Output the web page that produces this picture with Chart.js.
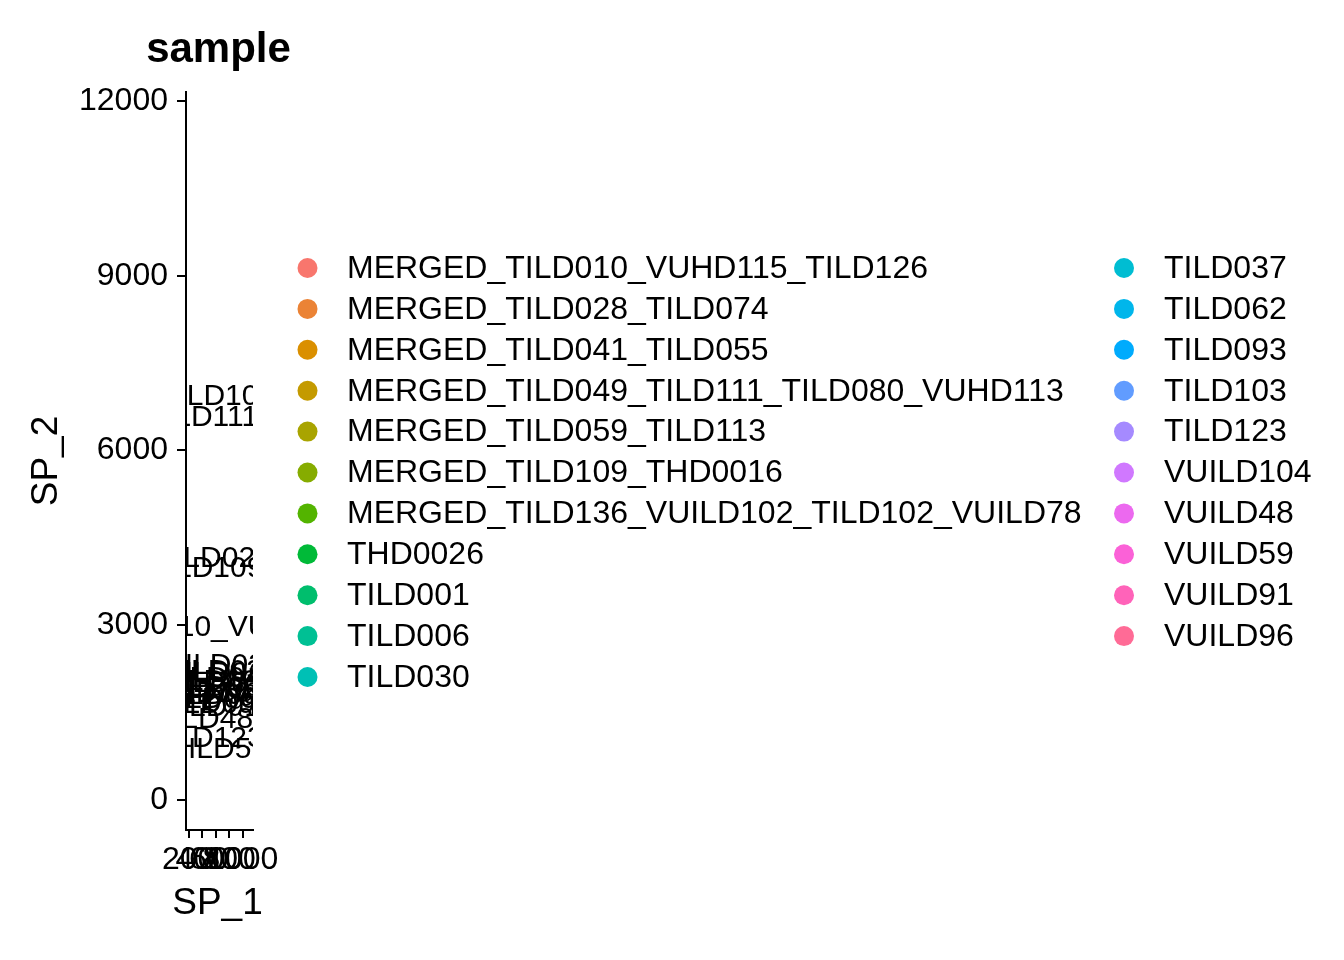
<!DOCTYPE html>
<html>
<head>
<meta charset="utf-8">
<script src="https://cdn.jsdelivr.net/npm/chart.js@4/dist/chart.umd.min.js"></script>
<style>
  html, body { margin: 0; padding: 0; background: #ffffff; }
  #wrap { width: 1344px; height: 960px; }
</style>
</head>
<body>
<div id="wrap"><canvas id="c" width="1344" height="960"></canvas></div>
<script>
// ---- data ----
const sampleNames = [
  "MERGED_TILD010_VUHD115_TILD126",
  "MERGED_TILD028_TILD074",
  "MERGED_TILD041_TILD055",
  "MERGED_TILD049_TILD111_TILD080_VUHD113",
  "MERGED_TILD059_TILD113",
  "MERGED_TILD109_THD0016",
  "MERGED_TILD136_VUILD102_TILD102_VUILD78",
  "THD0026",
  "TILD001",
  "TILD006",
  "TILD030",
  "TILD037",
  "TILD062",
  "TILD093",
  "TILD103",
  "TILD123",
  "VUILD104",
  "VUILD48",
  "VUILD59",
  "VUILD91",
  "VUILD96"
];
const labelX = [664, 455, 545, 418, 575, 430, 381, 545, 634, 604, 693,
                723, 664, 575, 515, 459, 456, 252, 474, 367, 427];
const labelY = [2960, 4150, 2090, 6560, 1990, 3970, 6920, 1890, 1790, 1720, 2200,
                2300, 1920, 1630, 1820, 1060, 2030, 1370, 860, 1580, 2160];
const xTicks = [200, 400, 600, 800, 1000];
const yTicks = [0, 3000, 6000, 9000, 12000];
const titleText = "sample";
const xTitle = "SP_1";
const yTitle = "SP_2";

// ---- ggplot-like hue palette ----
function hcl(h, c, l) {
  const hr = h * Math.PI / 180;
  const U = c * Math.cos(hr), V = c * Math.sin(hr);
  const Xn = 95.047, Yn = 100, Zn = 108.883;
  const den = Xn + 15 * Yn + 3 * Zn;
  const un = 4 * Xn / den, vn = 9 * Yn / den;
  const Y = Yn * (l > 8 ? Math.pow((l + 16) / 116, 3) : l / 903.3);
  const u = U / (13 * l) + un, v = V / (13 * l) + vn;
  const X = 9 * Y * u / (4 * v);
  const Z = Y * (12 - 3 * u - 20 * v) / (4 * v);
  const x = X / 100, y = Y / 100, z = Z / 100;
  let r = 3.240479 * x - 1.537150 * y - 0.498535 * z;
  let g = -0.969256 * x + 1.875992 * y + 0.041556 * z;
  let b = 0.055648 * x - 0.204043 * y + 1.057311 * z;
  const gam = t => t <= 0.0031308 ? 12.92 * t : 1.055 * Math.pow(t, 1 / 2.4) - 0.055;
  const to = t => Math.round(Math.min(1, Math.max(0, gam(t))) * 255);
  return 'rgb(' + to(r) + ',' + to(g) + ',' + to(b) + ')';
}
function huePal(n) {
  const out = [];
  for (let i = 0; i < n; i++) out.push(hcl(15 + 360 * i / n, 100, 65));
  return out;
}
const colors = huePal(sampleNames.length);

const FAM = '"Liberation Sans", Arial, Helvetica, sans-serif';

const datasets = sampleNames.map((name, i) => ({
  label: name,
  data: [{ x: labelX[i], y: labelY[i] }],
  backgroundColor: colors[i],
  borderColor: colors[i],
  pointRadius: 0,
  pointHoverRadius: 0
}));

// text labels inside panel (clipped like ggplot)
const labelPlugin = {
  id: 'panelLabels',
  afterDatasetsDraw(chart) {
    const { ctx, chartArea } = chart;
    ctx.save();
    ctx.beginPath();
    ctx.rect(chartArea.left, chartArea.top, chartArea.right - chartArea.left, chartArea.bottom - chartArea.top);
    ctx.clip();
    ctx.font = '30px ' + FAM;
    ctx.fillStyle = '#000';
    ctx.textAlign = 'center';
    ctx.textBaseline = 'middle';
    chart.data.datasets.forEach((ds, i) => {
      const el = chart.getDatasetMeta(i).data[0];
      if (el) ctx.fillText(ds.label, el.x, el.y);
    });
    ctx.restore();
  }
};

// title, x-axis title, legend
const decoPlugin = {
  id: 'deco',
  afterDraw(chart) {
    const { ctx, chartArea } = chart;
    const midX = (chartArea.left + chartArea.right) / 2;
    ctx.save();
    ctx.fillStyle = '#000';
    ctx.font = 'bold 42px ' + FAM;
    ctx.textAlign = 'center';
    ctx.textBaseline = 'alphabetic';
    ctx.fillText(titleText, midX - 1, 62);

    ctx.font = '37px ' + FAM;
    ctx.textBaseline = 'middle';
    ctx.fillText(xTitle, midX - 2, 904);

    const rows = 11;
    ctx.font = '32px ' + FAM;
    ctx.textAlign = 'left';
    ctx.textBaseline = 'middle';
    chart.data.datasets.forEach((ds, i) => {
      const col = Math.floor(i / rows), row = i % rows;
      const cx = col === 0 ? 307.5 : 1124;
      const tx = col === 0 ? 347 : 1164;
      const cy = 268 + row * 40.9;
      ctx.beginPath();
      ctx.arc(cx, cy, 10, 0, Math.PI * 2);
      ctx.fillStyle = ds.backgroundColor;
      ctx.fill();
      ctx.fillStyle = '#000';
      ctx.fillText(ds.label, tx, cy + 1);
    });
    ctx.restore();
  }
};

new Chart(document.getElementById('c'), {
  type: 'scatter',
  data: { datasets },
  options: {
    responsive: false,
    animation: false,
    events: [],
    layout: { padding: { left: 25, right: 1091, top: 92, bottom: 35 } },
    plugins: { legend: { display: false }, tooltip: { enabled: false }, title: { display: false } },
    scales: {
      x: {
        type: 'linear',
        min: 160,
        max: 1152.6,
        afterBuildTicks: s => { s.ticks = xTicks.map(v => ({ value: v })); },
        afterFit: s => { s.height = 95; },
        ticks: {
          autoSkip: false, maxRotation: 0, minRotation: 0,
          color: '#000', padding: 3,
          font: { size: 32, family: FAM },
          callback: v => String(v)
        },
        grid: { drawOnChartArea: false, drawTicks: true, tickLength: 8, color: '#000', lineWidth: 2 },
        border: { display: true, color: '#000', width: 2 },
        title: { display: false }
      },
      y: {
        type: 'linear',
        min: -515,
        max: 12154,
        afterBuildTicks: s => { s.ticks = yTicks.map(v => ({ value: v })); },
        afterFit: s => { s.width = 161; },
        ticks: {
          autoSkip: false, color: '#000', padding: 9,
          font: { size: 32, family: FAM },
          callback: v => String(v)
        },
        grid: { drawOnChartArea: false, drawTicks: true, tickLength: 9, color: '#000', lineWidth: 2 },
        border: { display: true, color: '#000', width: 2 },
        title: { display: true, text: yTitle, color: '#000', padding: 0, font: { size: 37, family: FAM } }
      }
    }
  },
  plugins: [labelPlugin, decoPlugin]
});
</script>
</body>
</html>
